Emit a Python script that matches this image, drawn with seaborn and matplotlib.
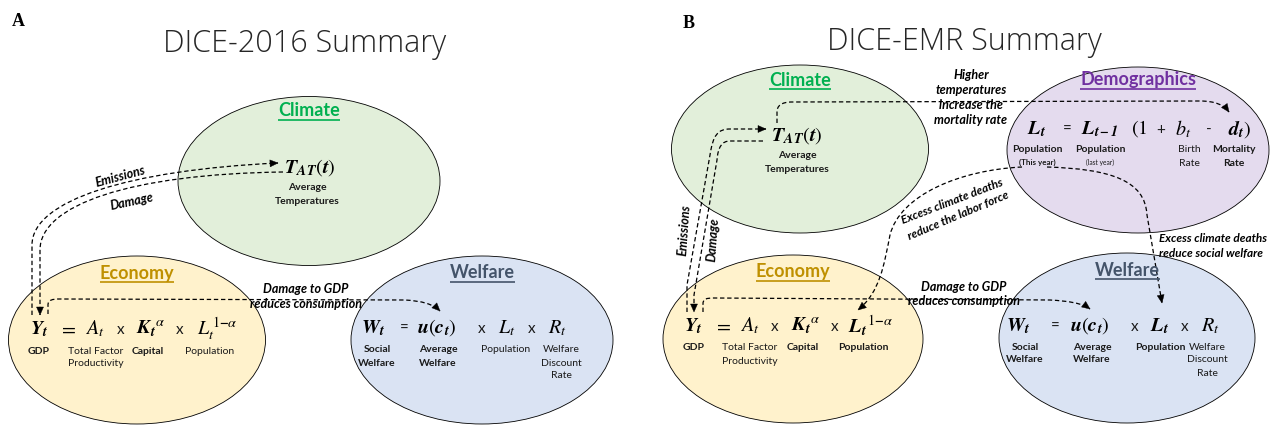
import matplotlib
matplotlib.use("Agg")
import matplotlib.pyplot as plt
import seaborn as sns
from matplotlib.patches import Ellipse, PathPatch, Polygon
from matplotlib.path import Path
import numpy as np

# ---------------- text content ----------------
panel_letters = ["A", "B"]
panel_titles = ["DICE-2016 Summary", "DICE-EMR Summary"]
sector_names = ["Climate", "Economy", "Welfare", "Demographics"]

temp_term = r"$\mathbf{T_{AT}}(\mathbf{t})$"
temp_label = ["Average", "Temperatures"]

econ_terms = [r"$\mathbf{Y_t}$", r"$=$", r"$A_t$", "x", r"$\mathbf{K_t}^{\alpha}$", "x", r"$L_t^{\,1\mathbf{-}\alpha}$"]
econ_terms_b = [r"$\mathbf{Y_t}$", r"$=$", r"$A_t$", "x", r"$\mathbf{K_t}^{\alpha}$", "x", r"$\mathbf{L_t}^{\,1\mathbf{-}\alpha}$"]
econ_labels = [["GDP"], ["Total Factor", "Productivity"], ["Capital"], ["Population"]]
econ_bold_a = [True, False, True, False]
econ_bold_b = [True, False, True, True]

welf_terms = [r"$\mathbf{W_t}$", "=", r"$\mathbf{u}(\mathbf{c_t})$", "x", r"$L_t$", "x", r"$R_t$"]
welf_terms_b = [r"$\mathbf{W_t}$", "=", r"$\mathbf{u}(\mathbf{c_t})$", "x", r"$\mathbf{L_t}$", "x", r"$R_t$"]
welf_labels = [["Social", "Welfare"], ["Average", "Welfare"], ["Population"], ["Welfare", "Discount", "Rate"]]
welf_bold_a = [True, True, False, False]
welf_bold_b = [True, True, True, False]

demo_terms = [r"$\mathbf{L_t}$", "=", r"$\mathbf{L_{t-1}}$", r"$(1$", "+", r"$b_t$", "-", r"$\mathbf{d_t})$"]
demo_labels = [["Population", "(This year)"], ["Population", "(last year)"], ["Birth", "Rate"], ["Mortality", "Rate"]]
demo_bold = [True, True, False, True]

arrow_notes_a = ["Emissions", "Damage", "Damage to GDP", "reduces consumption"]
arrow_notes_b = ["Emissions", "Damage", "Damage to GDP", "reduces consumption",
                 "Excess climate deaths", "reduce the labor force",
                 "Excess climate deaths", "reduce social welfare"]
higher_temp_note = ["Higher", "temperatures", "increase the", "mortality rate"]

# ---------------- style ----------------
sns.set_theme(style="white")
plt.rcParams["font.family"] = ["Lato", "DejaVu Sans"]
plt.rcParams["mathtext.fontset"] = "custom"
plt.rcParams["mathtext.rm"] = "STIXGeneral"
plt.rcParams["mathtext.it"] = "STIXGeneral:italic"
plt.rcParams["mathtext.bf"] = "STIXGeneral:italic:bold"

fills = {"Climate": "#e2efda", "Economy": "#fff2cc", "Welfare": "#dae3f3", "Demographics": "#e4dbee"}
heads = {"Climate": "#00b050", "Economy": "#bf9000", "Welfare": "#44546a", "Demographics": "#7030a0"}
label_col = "#1a1a1a"
note_size = 9

fig = plt.figure(figsize=(12.71, 4.26), dpi=100)
ax = fig.add_axes([0, 0, 1, 1])
ax.set_xlim(0, 1271)
ax.set_ylim(426, 0)
ax.set_axis_off()
sns.despine(ax=ax, left=True, bottom=True)

headings = []


def txt(x, y, s, size=7, bold=False, italic=False, color="black", rot=0, ha="center", **kw):
    return ax.text(x, y, s, fontsize=size, fontweight="bold" if bold else "normal",
                   fontstyle="italic" if italic else "normal", color=color,
                   rotation=rot, ha=ha, va="center", rotation_mode="anchor", zorder=5, **kw)


def sector(name, cx, cy, w, h, hy):
    ax.add_patch(Ellipse((cx, cy), w, h, facecolor=fills[name], edgecolor="black", lw=0.6, zorder=1))
    headings.append((txt(cx, hy, name, size=13, bold=True, color=heads[name]), hy, heads[name]))


def terms(tokens, xs, y, size=14.5):
    for s, x in zip(tokens, xs):
        if s.startswith("$"):
            txt(x, y, s, size=size)
        else:
            txt(x, y + 1, s, size=11, color=label_col)


def labels(groups, xs, y, bolds, step=13, size=7.5):
    for g, x, b in zip(groups, xs, bolds):
        for i, line in enumerate(g):
            txt(x, y + i * step, line, size=size, bold=b, color=label_col)


def dashed(verts, codes, head=True):
    cmap = {"M": Path.MOVETO, "L": Path.LINETO, "C": Path.CURVE4}
    p = Path(verts, [cmap[c] for c in codes])
    ax.add_patch(PathPatch(p, facecolor="none", edgecolor="black", lw=0.9,
                           linestyle=(0, (3.5, 2.2)), zorder=3))
    if head:
        tip = np.array(verts[-1], float)
        frm = np.array(verts[-2], float)
        d = (tip - frm) / np.linalg.norm(tip - frm)
        base = tip - d * 8
        perp = np.array([-d[1], d[0]])
        ax.add_patch(Polygon([tip, base + perp * 3.5, base - perp * 3.5], closed=True,
                             facecolor="black", edgecolor="black", lw=0.3, zorder=4))


def title(x, y, s):
    ax.text(x, y, s, fontsize=22, fontweight="light", family=["Open Sans", "DejaVu Sans"],
            ha="center", va="center", zorder=5)


# ================= Panel A =================
txt(18, 22, panel_letters[0], size=13, bold=True, family="Liberation Serif")
title(305, 44, panel_titles[0])

sector("Climate", 309, 181, 262, 169, 111)
sector("Economy", 137, 340, 257, 168, 273)
sector("Welfare", 482, 340, 262, 168, 273)

txt(310, 168, temp_term, size=14.5)
labels([temp_label], [307], 188, [True])

terms(econ_terms, [39, 68, 95, 121, 151, 180, 217], 329)
labels(econ_labels, [39, 96, 148, 210], 351, econ_bold_a)
terms(welf_terms, [373, 404, 437, 482, 507, 532, 557], 328)
labels(welf_labels, [377, 438, 506, 561], 350, welf_bold_a)

dashed([(32, 315), (32, 245), (32, 200), (130, 170), (278, 163)], "MLCCC")
dashed([(283, 172), (130, 174), (40, 205), (40, 250), (40, 315)], "MCCCL")
dashed([(48, 314), (48, 305), (48, 300), (52, 299), (60, 299), (405, 300), (422, 301), (433, 304), (440, 311)],
       "MLCCCLCCC")
txt(120, 176, arrow_notes_a[0], size=note_size, bold=True, italic=True, rot=15)
txt(132, 202, arrow_notes_a[1], size=note_size, bold=True, italic=True, rot=12)
txt(306, 289, arrow_notes_a[2], size=note_size, bold=True, italic=True)
txt(306, 304, arrow_notes_a[3], size=note_size, bold=True, italic=True)

# ================= Panel B =================
txt(689, 23, panel_letters[1], size=13, bold=True, family="Liberation Serif")
title(964, 42, panel_titles[1])

sector("Climate", 800, 149, 257, 168, 80)
sector("Demographics", 1138, 150, 262, 166, 80)
sector("Economy", 793, 339, 260, 168, 272)
sector("Welfare", 1127, 338, 256, 170, 270)

txt(797, 136, temp_term, size=14.5)
labels([temp_label], [797], 156, [True])

terms(demo_terms, [1037, 1067, 1100, 1139, 1161, 1183, 1209, 1240], 129)
labels([[demo_labels[0][0]], [demo_labels[1][0]], demo_labels[2], demo_labels[3]],
       [1037, 1100, 1189, 1234], 150, demo_bold)
txt(1037, 162, demo_labels[0][1], size=5.8, bold=True, color=label_col)
txt(1100, 162, demo_labels[1][1], size=4.8, color=label_col)

terms(econ_terms_b, [693, 723, 750, 775, 806, 835, 871], 326)
labels(econ_labels, [694, 750, 803, 863], 348, econ_bold_b)
terms(welf_terms_b, [1018, 1055, 1090, 1135, 1160, 1185, 1210], 326)
labels(welf_labels, [1025, 1092, 1160, 1207], 347, welf_bold_b)

for i, line in enumerate(higher_temp_note):
    txt(971, 75 + i * 15, line, size=note_size, bold=True, italic=True)

dashed([(687, 312), (687, 285), (710, 155), (713, 135), (718, 129), (730, 129), (766, 129)], "MLLCCCL")
dashed([(763, 141), (730, 141), (722, 141), (718, 147), (717, 160), (694, 295), (694, 312)], "MLCCCLL")
dashed([(777, 123), (777, 112), (777, 106), (781, 102), (792, 102), (1200, 101), (1215, 101), (1224, 105), (1229, 112)],
       "MLCCCLCCC")
dashed([(1022, 167), (960, 170), (900, 195), (890, 235), (884, 265), (880, 292), (858, 310)], "MCCCCCC")
dashed([(1047, 167), (1110, 169), (1145, 180), (1147, 215), (1162, 303)], "MCCCL")
dashed([(703, 312), (703, 304), (703, 299), (706, 298), (714, 298), (1050, 300), (1068, 301), (1082, 303), (1090, 309)],
       "MLCCCLCCC")

txt(684, 230, arrow_notes_b[0], size=note_size, bold=True, italic=True, rot=86)
txt(713, 240, arrow_notes_b[1], size=note_size, bold=True, italic=True, rot=86)
txt(964, 287, arrow_notes_b[2], size=note_size, bold=True, italic=True)
txt(964, 301, arrow_notes_b[3], size=note_size, bold=True, italic=True)
txt(952, 201, arrow_notes_b[4], size=8.5, bold=True, italic=True, rot=21)
txt(958, 216, arrow_notes_b[5], size=8.5, bold=True, italic=True, rot=23)
txt(1159, 239, arrow_notes_b[6], size=8.5, bold=True, italic=True, ha="left")
txt(1159, 253, arrow_notes_b[7], size=8.5, bold=True, italic=True, ha="left")

# underline the sector headings
fig.canvas.draw()
for t, hy, col in headings:
    bb = t.get_window_extent()
    ax.plot([bb.x0, bb.x1], [hy + 9, hy + 9], color=col, lw=1.2, zorder=5, solid_capstyle="butt")

fig.savefig("out.png", dpi=100)
